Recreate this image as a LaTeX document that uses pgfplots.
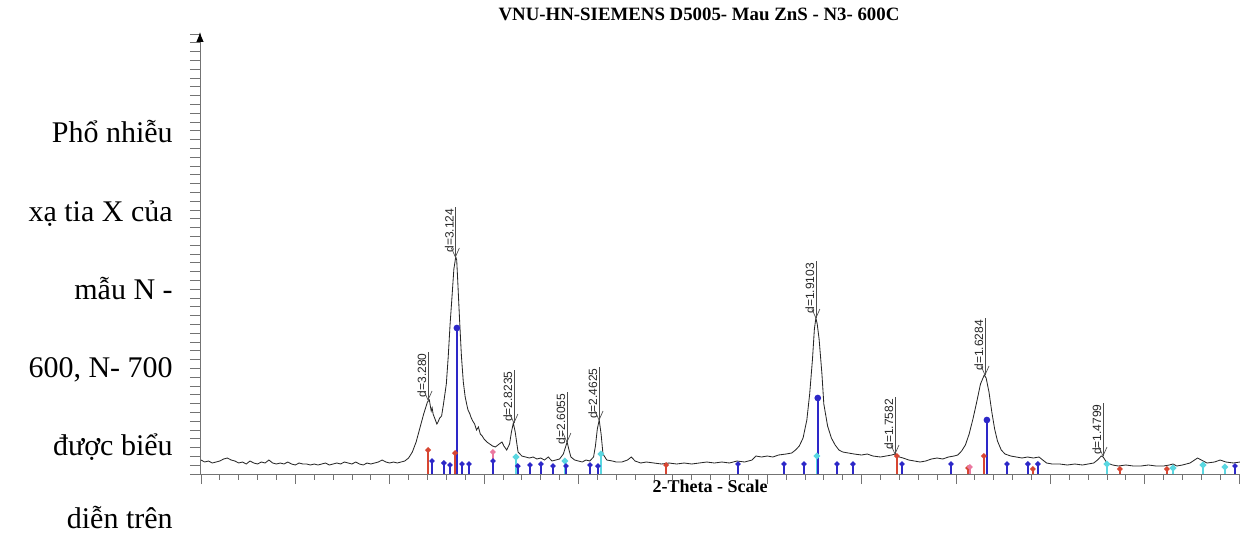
\documentclass[border=0pt]{standalone}
\usepackage{fontspec}
\setmainfont{Liberation Serif}
\newfontfamily\labfont{Liberation Sans}
\usepackage{pgfplots}
\pgfplotsset{compat=1.18}
\usetikzlibrary{arrows.meta}
\definecolor{stkblue}{RGB}{45,40,200}
\definecolor{stkred}{RGB}{215,70,50}
\definecolor{stkcyan}{RGB}{90,215,225}
\definecolor{stkpink}{RGB}{235,120,160}
\newcommand{\pk}[4]{%
  \draw[black!70, line width=0.4pt] (axis cs:#1,#2) -- ++(0pt,#4)
     node[anchor=south east, rotate=90, inner sep=0.8pt, text=black!85,
          font=\labfont\fontsize{7.2}{8}\selectfont]{#3};
  \draw[black!70, line width=0.4pt] (axis cs:#1,#2) ++(-2.4pt,5.4pt) -- (axis cs:#1,#2) -- ++(2.4pt,5.4pt);
}
\begin{document}
\begin{tikzpicture}
\useasboundingbox (0pt,0pt) rectangle (744pt,319.8pt);
\begin{scope}[x=0.6pt,y=0.6pt]
% left text
\begin{scope}[every node/.style={anchor=base east, inner sep=0pt, font=\fontsize{18}{21}\selectfont}]
\node at (173,390) {Phổ nhiễu};
\node at (173,312) {xạ tia X của};
\node at (173,234) {mẫu N -};
\node at (173,156) {600, N- 700};
\node at (173,78) {được biểu};
\node at (173,5) {diễn trên};
\end{scope}
\node[font=\bfseries\fontsize{11.3}{12}\selectfont, inner sep=0pt] at (699,519) {VNU-HN-SIEMENS D5005- Mau ZnS - N3- 600C};
\node[font=\bfseries\fontsize{10.8}{12}\selectfont, inner sep=0pt] at (710,47) {2-Theta - Scale};
\end{scope}
\begin{axis}[
  at={(120pt,35.4pt)}, anchor=south west, scale only axis,
  width=624pt, height=265.2pt,
  xmin=14.95, xmax=70.05, ymin=0, ymax=442,
  axis x line=bottom, axis y line=left,
  x axis line style={-, black!55, line width=0.6pt},
  y axis line style={-{Latex[length=6pt,width=4.5pt,color=black]}, black!55, line width=0.6pt},
  xtick={15,20,...,70}, minor xtick={15,...,70},
  ytick={0,8.8,...,440},
  xticklabels={}, yticklabels={},
  tick align=outside,
  major tick length=6pt, minor tick length=3.5pt,
  tick style={black!55, line width=0.5pt},
  clip=false,
]
% measured trace
\addplot[black!85, line width=0.5pt] coordinates {
(15.0,14)(15.2,12)(15.4,13)(15.6,11)(15.8,12)(16.0,13)(16.2,15)(16.4,16)(16.6,14)(16.8,13)
(17.0,11)(17.2,12)(17.4,10)(17.6,13)(17.8,11)(18.0,10)(18.2,12)(18.4,11)(18.6,14)(18.8,11)
(19.0,10)(19.2,11)(19.4,10)(19.6,12)(19.8,10)(20.0,9)(20.2,11)(20.4,10)(20.6,10)(20.8,9)
(21.0,10)(21.2,9)(21.4,10)(21.6,11)(21.8,9)(22.0,10)(22.2,11)(22.4,10)(22.6,12)(22.8,11)
(23.0,10)(23.2,12)(23.4,10)(23.6,9)(23.8,11)(24.0,10)(24.2,11)(24.4,12)(24.6,14)(24.8,12)
(25.0,11)(25.2,12)(25.4,11)(25.6,12)(25.8,13)(26.0,16)(26.2,22)(26.4,32)(26.6,46)(26.8,60)
(27.0,72)(27.1,74)(27.2,63)(27.25,66)(27.3,60)(27.4,55)(27.5,50)(27.56,52)(27.65,56)(27.75,58)
(27.85,70)(28.0,90)(28.1,117)(28.2,150)(28.3,177)(28.4,205)(28.5,217)(28.55,214)(28.6,195)(28.7,155)
(28.8,118)(28.9,92)(29.0,77)(29.1,68)(29.15,64)(29.25,60)(29.3,57)(29.4,53)(29.5,50)(29.6,44)
(29.7,47)(29.8,40)(29.9,38)(30.0,35)(30.15,32)(30.3,30)(30.45,28)(30.6,27)(30.8,30)(30.95,32)
(31.05,28)(31.2,24)(31.35,30)(31.45,42)(31.55,51)(31.65,42)(31.8,22)(32.0,18)(32.2,17)(32.4,16)
(32.6,17)(32.8,15)(33.0,16)(33.2,14)(33.4,17)(33.6,13)(33.8,14)(34.0,15)(34.2,20)(34.3,26)
(34.4,32)(34.5,24)(34.6,17)(34.8,14)(35.0,13)(35.2,12)(35.4,14)(35.6,13)(35.8,17)(35.9,28)
(36.0,45)(36.1,54)(36.2,40)(36.3,20)(36.5,14)(36.8,13)(37.0,12)(37.3,12)(37.6,14)(37.8,17)
(38.0,13)(38.3,11)(38.6,12)(39.0,11)(39.4,10)(39.8,11)(40.2,10)(40.6,11)(41.0,10)(41.4,11)
(41.8,12)(42.2,11)(42.6,12)(43.0,11)(43.4,13)(43.8,12)(44.2,14)(44.4,18)(44.7,17)(45.0,18)
(45.3,17)(45.6,19)(46.0,20)(46.3,21)(46.5,24)(46.7,28)(46.9,36)(47.1,54)(47.25,80)(47.4,115)
(47.5,145)(47.58,156)(47.65,150)(47.75,135)(47.9,100)(48.0,70)(48.2,48)(48.4,36)(48.6,29)(48.8,24)
(49.0,22)(49.3,21)(49.6,20)(50.0,19)(50.3,20)(50.6,18)(51.0,17)(51.3,18)(51.6,19)(51.77,20)
(52.0,17)(52.2,16)(52.5,14)(52.8,13)(53.1,12)(53.4,13)(53.7,15)(54.0,16)(54.3,15)(54.6,17)
(54.9,18)(55.1,19)(55.3,23)(55.5,29)(55.7,40)(55.9,55)(56.1,72)(56.3,90)(56.5,99)(56.6,96)
(56.75,82)(56.9,62)(57.05,45)(57.2,33)(57.4,24)(57.6,20)(57.9,18)(58.2,17)(58.5,16)(58.8,17)
(59.1,16)(59.4,17)(59.6,14)(59.8,11)(60.1,10)(60.5,10)(60.9,9)(61.3,10)(61.7,9)(62.0,10)
(62.3,11)(62.5,14)(62.7,18)(62.8,17)(63.0,11)(63.3,9)(63.6,8)(64.0,9)(64.4,8)(64.8,8)
(65.2,9)(65.6,8)(66.0,8)(66.3,9)(66.5,10)(66.7,8)(67.0,9)(67.4,11)(67.8,16)(68.0,14)
(68.3,11)(68.7,12)(69.0,14)(69.3,12)(69.7,11)(70.05,12)
};
% reference sticks
\addplot[stkcyan, line width=1.6pt, ycomb, mark=*, mark size=1pt] coordinates {
(31.69,17)(34.28,13)(36.19,20)(47.63,18)(63.0,10)(66.5,6)(68.09,9)(69.25,7)};
\addplot[stkred, line width=1pt, ycomb, mark=*, mark size=1.1pt] coordinates {
(27.03,24)(28.46,21)(39.64,9)(51.87,18)(56.48,18)(59.08,5)(63.69,5)(66.18,5)(55.64,6)};
\addplot[stkpink, line width=1pt, ycomb, mark=*, mark size=1.1pt] coordinates {
(30.47,22)(55.74,7)};
\addplot[stkblue, line width=0.9pt, ycomb, mark=*, mark size=1.1pt] coordinates {
(27.24,13)(27.87,11)(28.19,9)(28.83,10)(29.2,10)(30.47,13)(31.79,8)(32.43,9)(33.01,10)
(33.65,8)(34.34,8)(35.61,9)(36.03,8)(43.45,10)(45.89,10)(46.95,10)(48.7,10)(49.54,10)
(52.14,10)(54.74,10)(57.7,10)(58.81,10)(59.34,10)(69.78,8)};
\addplot[stkblue, line width=1.5pt, ycomb, mark=*, mark size=1.2pt] coordinates {
(28.56,146)(47.68,76)(56.64,54)};
% peak labels
\pk{27.03}{74}{d=3.280}{29pt}
\pk{28.48}{217}{d=3.124}{30pt}
\pk{31.58}{51}{d=2.8235}{32pt}
\pk{34.39}{32}{d=2.6055}{30pt}
\pk{36.09}{54}{d=2.4625}{32pt}
\pk{47.58}{156}{d=1.9103}{34pt}
\pk{51.77}{20}{d=1.7582}{34pt}
\pk{56.54}{99}{d=1.6284}{34pt}
\pk{62.79}{18}{d=1.4799}{32pt}
\end{axis}
\end{tikzpicture}
\end{document}
